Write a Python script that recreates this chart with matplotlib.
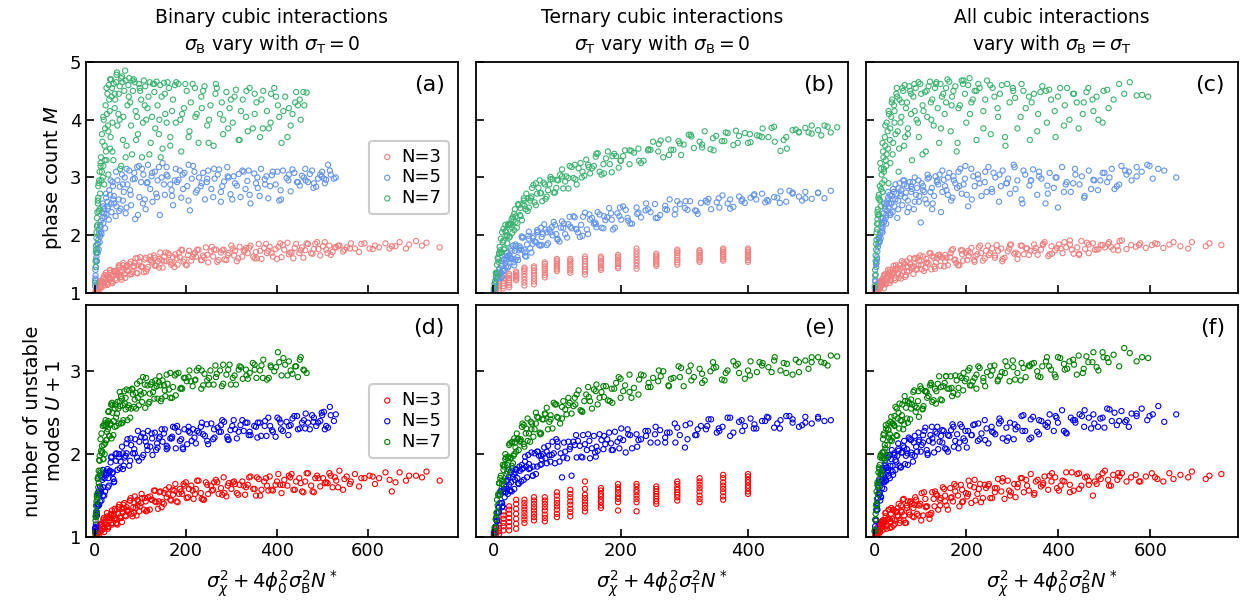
import numpy as np
import matplotlib
matplotlib.use("Agg")
import matplotlib.pyplot as plt

# ---- binary cubic interactions (sigma_T = 0) ----
bin3_x = [2, 3, 5, 6, 8, 10, 12, 14, 16, 18,
          20, 22, 24, 27, 29, 31, 34, 36, 39, 42,
          45, 48, 51, 54, 57, 60, 63, 67, 70, 74,
          77, 81, 85, 88, 92, 96, 100, 104, 108, 112,
          117, 121, 126, 130, 135, 139, 144, 149, 153, 158,
          163, 168, 172, 177, 182, 187, 192, 197, 202, 207,
          212, 217, 222, 228, 233, 238, 244, 249, 255, 260,
          266, 272, 277, 283, 289, 294, 300, 306, 312, 318,
          324, 330, 336, 342, 348, 354, 360, 366, 372, 378,
          384, 391, 397, 403, 410, 416, 423, 429, 436, 442,
          449, 455, 462, 468, 475, 481, 488, 495, 501, 508,
          515, 522, 530, 537, 545, 553, 562, 571, 580, 592,
          603, 615, 624, 638, 647, 652, 669, 683, 690, 718, 728, 757,
          3, 4, 7, 9, 11, 13, 15, 17, 19, 21,
          23, 25, 28, 30, 33, 35, 38, 41, 44, 47,
          50, 53, 56, 59, 62, 65, 69, 72, 79, 83,
          87, 90, 94, 98, 102, 110, 115, 124, 133, 141,
          147, 156, 166, 175, 185, 195, 205, 215, 225, 235,
          247, 257, 269, 280, 292, 303, 315, 327, 339, 351,
          363, 376, 388, 400, 413, 426, 439, 452, 465, 478,
          491, 505, 518, 534, 548,
          4, 6, 9, 12, 15, 18, 22, 26, 30, 34,
          38, 43, 47, 52, 58, 64, 71, 78, 86, 94,
          103, 113, 122, 132, 142, 152, 161, 171, 180, 190,
          200, 220, 240, 262, 285, 308, 332, 356, 381, 407,
          432, 458, 484, 511, 527, 560, 585, 610, 660, 705]
bin3_M = [1.02, 1.05, 1.06, 1.14, 1.06, 1.12, 1.21, 1.09, 1.20, 1.17,
          1.27, 1.13, 1.24, 1.30, 1.15, 1.27, 1.39, 1.24, 1.17, 1.38,
          1.25, 1.37, 1.33, 1.46, 1.28, 1.37, 1.52, 1.26, 1.46, 1.38,
          1.50, 1.33, 1.47, 1.52, 1.35, 1.48, 1.62, 1.46, 1.36, 1.61,
          1.45, 1.57, 1.53, 1.65, 1.47, 1.55, 1.70, 1.44, 1.63, 1.55,
          1.66, 1.49, 1.62, 1.67, 1.49, 1.62, 1.74, 1.58, 1.48, 1.73,
          1.56, 1.67, 1.63, 1.75, 1.57, 1.65, 1.79, 1.53, 1.72, 1.63,
          1.75, 1.57, 1.70, 1.75, 1.57, 1.69, 1.82, 1.65, 1.55, 1.80,
          1.63, 1.74, 1.69, 1.82, 1.63, 1.71, 1.85, 1.59, 1.78, 1.69,
          1.80, 1.63, 1.76, 1.80, 1.62, 1.75, 1.87, 1.70, 1.60, 1.85,
          1.69, 1.79, 1.74, 1.85, 1.69, 1.76, 1.88, 1.65, 1.81, 1.75,
          1.82, 1.71, 1.79, 1.82, 1.72, 1.79, 1.86, 1.77, 1.71, 1.86,
          1.77, 1.82, 1.79, 1.86, 1.77, 1.81, 1.88, 1.77, 1.84, 1.82, 1.87, 1.79,
          1.04, 1.09, 1.07, 1.04, 1.18, 1.10, 1.18, 1.16, 1.25, 1.14,
          1.22, 1.35, 1.14, 1.31, 1.25, 1.35, 1.21, 1.32, 1.37, 1.22,
          1.35, 1.48, 1.32, 1.23, 1.48, 1.32, 1.44, 1.40, 1.54, 1.36,
          1.46, 1.60, 1.34, 1.54, 1.46, 1.58, 1.41, 1.56, 1.61, 1.44,
          1.57, 1.70, 1.54, 1.45, 1.70, 1.54, 1.66, 1.62, 1.75, 1.57,
          1.66, 1.80, 1.54, 1.74, 1.66, 1.77, 1.60, 1.73, 1.78, 1.60,
          1.73, 1.85, 1.69, 1.59, 1.83, 1.67, 1.78, 1.74, 1.86, 1.68,
          1.76, 1.88, 1.66, 1.82, 1.75,
          1.05, 1.03, 1.16, 1.11, 1.18, 1.17, 1.31, 1.17, 1.26, 1.40,
          1.18, 1.36, 1.31, 1.43, 1.27, 1.42, 1.48, 1.32, 1.46, 1.60,
          1.45, 1.37, 1.63, 1.47, 1.59, 1.55, 1.69, 1.51, 1.60, 1.75,
          1.49, 1.70, 1.62, 1.75, 1.58, 1.73, 1.78, 1.60, 1.73, 1.86,
          1.70, 1.61, 1.85, 1.69, 1.79, 1.77, 1.85, 1.76, 1.81, 1.90]
bin3_U = [1.03, 1.01, 1.05, 1.10, 1.06, 1.01, 1.15, 1.07, 1.15, 1.13,
          1.23, 1.10, 1.17, 1.29, 1.10, 1.24, 1.20, 1.28, 1.17, 1.27,
          1.32, 1.17, 1.28, 1.39, 1.25, 1.18, 1.39, 1.26, 1.36, 1.32,
          1.44, 1.28, 1.36, 1.49, 1.26, 1.43, 1.37, 1.47, 1.33, 1.43,
          1.48, 1.33, 1.45, 1.56, 1.42, 1.34, 1.55, 1.42, 1.53, 1.48,
          1.60, 1.44, 1.51, 1.64, 1.42, 1.58, 1.52, 1.62, 1.47, 1.58,
          1.62, 1.46, 1.58, 1.68, 1.53, 1.45, 1.66, 1.52, 1.62, 1.57,
          1.69, 1.52, 1.59, 1.72, 1.49, 1.65, 1.58, 1.67, 1.53, 1.63,
          1.67, 1.51, 1.63, 1.73, 1.58, 1.50, 1.70, 1.57, 1.67, 1.62,
          1.73, 1.56, 1.63, 1.76, 1.53, 1.69, 1.62, 1.72, 1.57, 1.67,
          1.71, 1.55, 1.67, 1.77, 1.62, 1.54, 1.74, 1.61, 1.71, 1.66,
          1.77, 1.60, 1.68, 1.80, 1.57, 1.73, 1.67, 1.76, 1.61, 1.71,
          1.74, 1.64, 1.71, 1.78, 1.69, 1.55, 1.78, 1.68, 1.74, 1.72, 1.79, 1.68,
          1.01, 1.05, 1.04, 1.09, 1.08, 1.16, 1.08, 1.13, 1.21, 1.06,
          1.20, 1.15, 1.25, 1.13, 1.23, 1.27, 1.15, 1.25, 1.34, 1.23,
          1.15, 1.36, 1.23, 1.34, 1.30, 1.41, 1.25, 1.33, 1.47, 1.25,
          1.41, 1.35, 1.45, 1.31, 1.41, 1.47, 1.32, 1.45, 1.56, 1.43,
          1.36, 1.57, 1.45, 1.56, 1.52, 1.64, 1.48, 1.56, 1.68, 1.46,
          1.63, 1.56, 1.66, 1.51, 1.62, 1.66, 1.51, 1.62, 1.72, 1.58,
          1.50, 1.71, 1.57, 1.67, 1.63, 1.74, 1.57, 1.65, 1.77, 1.55,
          1.71, 1.65, 1.74, 1.60, 1.70,
          1.07, 1.01, 1.10, 1.09, 1.16, 1.10, 1.18, 1.23, 1.12, 1.23,
          1.32, 1.22, 1.16, 1.36, 1.23, 1.35, 1.31, 1.44, 1.29, 1.38,
          1.52, 1.31, 1.49, 1.43, 1.54, 1.40, 1.52, 1.57, 1.43, 1.55,
          1.66, 1.52, 1.45, 1.66, 1.53, 1.64, 1.60, 1.72, 1.56, 1.63,
          1.76, 1.54, 1.71, 1.65, 1.72, 1.64, 1.71, 1.73, 1.66, 1.74]

bin5_x = [1, 2, 3, 4, 5, 6, 7, 8, 10, 11,
          13, 15, 17, 19, 21, 23, 26, 28, 31, 34,
          37, 40, 43, 46, 50, 53, 57, 60, 64, 68,
          72, 76, 80, 84, 89, 93, 98, 102, 107, 112,
          117, 122, 127, 132, 138, 143, 149, 154, 160, 166,
          172, 178, 184, 190, 197, 203, 209, 216, 222, 229,
          235, 242, 249, 256, 263, 270, 277, 284, 291, 298,
          305, 312, 320, 327, 335, 342, 350, 358, 365, 373,
          381, 389, 397, 405, 413, 421, 430, 438, 446, 455,
          463, 472, 481, 490, 499, 508, 516, 529,
          1, 2, 3, 5, 6, 8, 9, 12, 14, 16,
          18, 22, 25, 29, 32, 36, 39, 42, 48, 55,
          62, 66, 70, 78, 87, 95, 104, 110, 115, 125,
          135, 141, 152, 158, 170, 176, 187, 194, 206, 213,
          225, 238, 246, 260, 273, 280, 294, 302, 316, 331,
          338, 354, 362, 377, 385, 401, 409, 425, 434, 450,
          459, 468, 477, 486, 495, 503, 512,
          2, 4, 7, 9, 12, 14, 18, 21, 25, 30,
          35, 41, 47, 54, 62, 70, 79, 88, 97, 106,
          116, 126, 137, 147, 158, 169, 181, 193, 206, 219,
          233, 247, 262, 277, 292, 308, 324, 340, 357, 374,
          391, 408, 426, 444, 462, 480, 498, 505, 518, 525]
bin5_M = [1.12, 1.30, 1.45, 1.62, 1.55, 1.78, 1.70, 1.92, 2.03, 1.88,
          2.15, 2.02, 2.30, 2.21, 2.45, 2.12, 2.36, 2.58, 2.27, 2.70,
          2.40, 2.85, 2.55, 2.33, 2.95, 2.62, 2.46, 3.05, 2.75, 2.38,
          2.88, 3.12, 2.52, 2.97, 2.28, 3.18, 2.66, 2.92, 3.05, 2.45,
          3.22, 2.80, 2.58, 3.10, 2.95, 2.35, 3.25, 2.70, 3.02, 2.88,
          2.52, 3.15, 2.96, 2.65, 3.08, 2.85, 2.43, 3.20, 2.74, 3.00,
          2.90, 2.62, 3.12, 2.80, 2.98, 3.05, 2.58, 2.93, 3.18, 2.71,
          3.02, 2.86, 2.66, 3.10, 2.94, 2.55, 3.07, 2.82, 3.15, 2.97,
          2.64, 3.04, 2.88, 2.60, 3.12, 2.99, 2.76, 3.08, 2.92, 3.03,
          2.95, 3.06, 2.90, 2.98, 3.10, 2.96, 3.12, 3.00,
          1.22, 1.40, 1.58, 1.70, 1.85, 2.00, 2.10, 1.98, 2.25, 2.40,
          2.50, 2.32, 2.65, 2.46, 2.78, 2.55, 2.92, 2.68, 2.50, 2.84,
          2.60, 3.00, 2.48, 2.78, 3.08, 2.35, 3.15, 2.62, 2.90, 3.02,
          2.72, 3.18, 2.88, 3.05, 2.68, 2.95, 3.12, 2.80, 3.22, 2.98,
          2.78, 3.08, 2.92, 2.66, 3.14, 2.85, 3.00, 2.62, 3.06, 2.80,
          3.12, 2.90, 2.68, 3.02, 2.85, 3.10, 2.62, 2.95, 3.14, 2.86,
          3.00, 2.92, 3.12, 2.84, 3.05, 2.98, 3.22,
          1.25, 1.55, 1.85, 1.75, 2.18, 2.05, 2.55, 2.38, 2.72, 2.50,
          2.95, 2.62, 3.10, 2.42, 2.88, 3.15, 2.70, 2.98, 3.20, 2.55,
          2.92, 3.08, 2.66, 3.00, 3.18, 2.78, 2.92, 3.05, 2.60, 3.10,
          2.85, 2.98, 3.15, 2.75, 3.02, 2.90, 3.12, 2.70, 3.00, 2.88,
          3.10, 2.78, 3.05, 2.92, 3.15, 2.82, 3.02, 2.90, 3.05, 2.98]
bin5_U = [1.10, 1.11, 1.15, 1.31, 1.27, 1.40, 1.40, 1.52, 1.39, 1.52,
          1.74, 1.44, 1.69, 1.60, 1.77, 1.55, 1.75, 1.82, 1.62, 1.80,
          1.97, 1.78, 1.67, 2.00, 1.81, 1.96, 1.91, 2.09, 1.86, 1.98,
          2.18, 1.86, 2.11, 2.01, 2.18, 1.96, 2.15, 2.21, 1.99, 2.15,
          2.28, 2.09, 1.99, 2.26, 2.08, 2.21, 2.15, 2.30, 2.08, 2.19,
          2.33, 2.07, 2.27, 2.18, 2.30, 2.12, 2.26, 2.30, 2.13, 2.26,
          2.38, 2.22, 2.12, 2.37, 2.20, 2.32, 2.27, 2.39, 2.21, 2.29,
          2.41, 2.19, 2.35, 2.28, 2.38, 2.23, 2.34, 2.38, 2.22, 2.34,
          2.44, 2.29, 2.21, 2.42, 2.28, 2.39, 2.35, 2.46, 2.30, 2.38,
          2.49, 2.30, 2.44, 2.38, 2.47, 2.34, 2.57, 2.48,
          1.07, 1.12, 1.24, 1.26, 1.37, 1.54, 1.38, 1.61, 1.54, 1.72,
          1.50, 1.71, 1.79, 1.60, 1.79, 1.96, 1.77, 1.66, 2.01, 1.83,
          2.01, 1.96, 2.13, 1.92, 2.06, 2.28, 1.96, 2.20, 2.10, 2.25,
          2.05, 2.19, 2.25, 2.06, 2.21, 2.32, 2.16, 2.06, 2.33, 2.16,
          2.28, 2.24, 2.36, 2.18, 2.27, 2.41, 2.17, 2.34, 2.27, 2.38,
          2.23, 2.33, 2.38, 2.22, 2.34, 2.44, 2.30, 2.23, 2.43, 2.31,
          2.41, 2.38, 2.47, 2.34, 2.40, 2.51, 2.32,
          1.10, 1.29, 1.40, 1.55, 1.43, 1.58, 1.81, 1.50, 1.77, 1.71,
          1.90, 1.70, 1.92, 2.00, 1.82, 2.01, 2.19, 2.01, 1.92, 2.25,
          2.05, 2.19, 2.13, 2.30, 2.10, 2.19, 2.34, 2.08, 2.28, 2.20,
          2.33, 2.16, 2.30, 2.35, 2.18, 2.30, 2.41, 2.27, 2.20, 2.40,
          2.27, 2.38, 2.34, 2.46, 2.31, 2.39, 2.50, 2.30, 2.47, 2.40]

bin7_x = [1, 2, 3, 4, 5, 6, 7, 8, 9, 11,
          12, 14, 15, 17, 19, 21, 23, 25, 27, 30,
          32, 35, 38, 41, 44, 47, 50, 53, 56, 60,
          63, 67, 70, 74, 78, 82, 86, 90, 95, 99,
          104, 108, 113, 118, 123, 128, 133, 138, 144, 149,
          155, 160, 166, 172, 178, 184, 190, 196, 202, 208,
          215, 221, 228, 234, 241, 247, 254, 261, 268, 275,
          282, 289, 296, 303, 310, 318, 325, 332, 340, 347,
          355, 363, 370, 378, 386, 394, 402, 410, 418, 426,
          434, 442, 450, 458, 465,
          3, 4, 6, 8, 10, 13, 16, 18, 20, 22,
          24, 26, 28, 29, 31, 33, 34, 36, 37, 39,
          42, 45, 48, 52, 55, 58, 62, 65, 68, 72,
          76, 80, 84, 88, 93, 97, 102, 106, 111, 116,
          121, 126, 131, 136, 141, 147, 152, 158, 163, 170,
          176, 188, 199, 211, 224, 238, 251, 265, 279, 293,
          307, 321, 336, 351, 366, 382, 398, 414, 430, 446,
          2, 3, 5, 7, 9, 11, 13, 16, 19, 22,
          26, 30, 34, 39, 44, 49, 55, 61, 68, 75,
          83, 91, 100, 110, 120, 131, 142, 154, 166, 179,
          192, 206, 220, 235, 250, 266, 282, 299, 316, 333,
          351, 369, 387, 405, 423, 440, 452, 460, 145, 58]
bin7_M = [1.18, 1.55, 1.82, 2.05, 2.30, 2.18, 2.55, 2.85, 2.42, 3.10,
          2.72, 3.35, 2.95, 3.62, 3.20, 2.88, 3.85, 3.45, 4.10, 3.05,
          4.35, 3.70, 4.55, 3.30, 4.20, 4.65, 3.90, 4.45, 3.15, 4.75,
          4.05, 4.85, 3.55, 4.60, 4.30, 3.40, 4.70, 4.15, 3.75, 4.55,
          3.35, 4.68, 4.00, 4.40, 3.60, 4.62, 3.85, 4.25, 4.60, 3.50,
          4.10, 4.65, 3.70, 4.35, 3.95, 4.62, 3.45, 4.20, 4.50, 3.80,
          4.62, 4.05, 3.60, 4.40, 4.58, 3.90, 4.25, 3.55, 4.55, 4.10,
          3.75, 4.48, 4.20, 3.95, 4.52, 3.65, 4.35, 4.05, 4.55, 3.85,
          4.30, 3.70, 4.50, 4.15, 3.95, 4.55, 4.25, 3.60, 4.40, 4.20,
          4.10, 4.48, 4.35, 4.48, 4.47,
          1.70, 1.95, 2.40, 2.65, 2.95, 3.20, 3.75, 3.00, 4.00, 3.55,
          4.25, 3.30, 4.45, 3.90, 4.60, 4.15, 3.50, 4.70, 4.40, 3.95,
          4.62, 4.35, 4.78, 4.10, 4.58, 4.72, 3.65, 4.50, 4.68, 4.25,
          4.72, 3.90, 4.50, 4.65, 4.05, 4.62, 4.35, 3.95, 4.58, 4.20,
          4.65, 4.05, 4.48, 4.66, 3.75, 4.40, 4.64, 3.95, 4.55, 4.15,
          4.60, 4.00, 4.62, 4.30, 4.10, 4.50, 4.00, 4.45, 4.30, 3.85,
          4.40, 4.15, 3.80, 4.45, 4.35, 3.85, 4.40, 4.15, 3.90, 4.25,
          1.45, 1.75, 2.15, 2.60, 2.90, 2.45, 3.25, 3.10, 4.05, 3.30,
          4.55, 3.80, 4.70, 3.45, 4.45, 4.82, 4.00, 4.65, 3.35, 4.40,
          4.68, 3.65, 4.50, 4.25, 3.40, 4.62, 4.00, 4.45, 3.55, 4.65,
          4.10, 3.70, 4.55, 4.20, 3.60, 4.62, 4.00, 4.35, 3.65, 4.50,
          4.10, 3.85, 4.45, 4.05, 3.70, 4.30, 4.00, 4.25, 3.35, 3.20]
bin7_U = [1.05, 1.20, 1.38, 1.31, 1.51, 1.52, 1.71, 1.60, 1.80, 1.98,
          1.77, 2.04, 2.25, 2.03, 1.94, 2.35, 2.13, 2.34, 2.27, 2.51,
          2.22, 2.37, 2.62, 2.23, 2.55, 2.44, 2.63, 2.37, 2.58, 2.67,
          2.41, 2.61, 2.78, 2.56, 2.44, 2.79, 2.57, 2.74, 2.68, 2.88,
          2.63, 2.74, 2.92, 2.61, 2.84, 2.75, 2.89, 2.67, 2.83, 2.89,
          2.70, 2.85, 2.98, 2.81, 2.71, 2.98, 2.80, 2.92, 2.88, 3.01,
          2.82, 2.90, 3.04, 2.79, 2.97, 2.89, 3.01, 2.84, 2.97, 3.01,
          2.85, 2.96, 3.08, 2.92, 2.84, 3.06, 2.91, 3.02, 2.98, 3.10,
          2.92, 3.01, 3.14, 2.90, 3.07, 3.00, 3.23, 2.95, 3.08, 3.12,
          2.97, 3.06, 3.14, 3.02, 2.98,
          1.28, 1.43, 1.45, 1.73, 1.93, 1.80, 2.10, 2.34, 2.11, 2.00,
          2.41, 2.17, 2.38, 2.30, 2.52, 2.22, 2.36, 2.60, 2.19, 2.50,
          2.40, 2.60, 2.34, 2.55, 2.64, 2.37, 2.59, 2.76, 2.54, 2.41,
          2.77, 2.55, 2.72, 2.66, 2.85, 2.59, 2.72, 2.93, 2.56, 2.83,
          2.73, 2.87, 2.67, 2.82, 2.87, 2.67, 2.83, 2.96, 2.78, 2.68,
          2.95, 2.79, 2.92, 2.88, 3.01, 2.83, 2.92, 3.07, 2.82, 3.02,
          2.95, 3.05, 2.91, 3.02, 3.07, 2.92, 3.05, 3.16, 3.01, 2.93,
          1.25, 1.24, 1.48, 1.70, 1.65, 1.92, 2.18, 2.01, 1.94, 2.37,
          2.17, 2.40, 2.35, 2.59, 2.33, 2.49, 2.75, 2.38, 2.68, 2.59,
          2.78, 2.55, 2.76, 2.84, 2.63, 2.80, 2.94, 2.77, 2.68, 2.97,
          2.79, 2.93, 2.89, 3.01, 2.84, 2.93, 3.08, 2.84, 3.02, 2.95,
          3.08, 2.92, 3.05, 3.11, 2.95, 3.06, 3.17, 3.01, 2.64, 2.70]

# ---- ternary cubic interactions (sigma_B = 0) ----
# N=3 runs sit on a grid of x values, several runs per grid value
tern3_cols = [1, 4, 9, 16, 25, 36, 49, 64, 81, 100,
              121, 144, 169, 196, 225, 256, 289, 324, 361, 400]
tern3_M = [[1.00, 1.02, 1.04],
           [1.03, 1.06, 1.09, 1.12],
           [1.05, 1.09, 1.13, 1.17, 1.20],
           [1.08, 1.12, 1.17, 1.21, 1.25, 1.30],
           [1.10, 1.14, 1.18, 1.22, 1.26, 1.30, 1.33],
           [1.22, 1.25, 1.28, 1.31, 1.34, 1.37, 1.29],
           [1.13, 1.18, 1.23, 1.28, 1.33, 1.38, 1.41, 1.44],
           [1.15, 1.20, 1.25, 1.30, 1.35, 1.39, 1.43, 1.46],
           [1.27, 1.31, 1.35, 1.39, 1.42, 1.46, 1.50, 1.53],
           [1.38, 1.41, 1.44, 1.47, 1.50, 1.53, 1.56, 1.59],
           [1.35, 1.39, 1.42, 1.46, 1.49, 1.53, 1.56, 1.59],
           [1.32, 1.37, 1.41, 1.46, 1.50, 1.55, 1.59, 1.63],
           [1.40, 1.43, 1.46, 1.50, 1.53, 1.56, 1.60, 1.63],
           [1.43, 1.46, 1.50, 1.53, 1.56, 1.60, 1.63, 1.66],
           [1.42, 1.47, 1.52, 1.57, 1.62, 1.67, 1.72, 1.77],
           [1.47, 1.50, 1.53, 1.56, 1.59, 1.62, 1.65, 1.68],
           [1.49, 1.53, 1.57, 1.61, 1.65, 1.69, 1.72, 1.75],
           [1.54, 1.57, 1.60, 1.63, 1.66, 1.69, 1.72, 1.74],
           [1.56, 1.59, 1.62, 1.65, 1.68, 1.71, 1.74, 1.77],
           [1.54, 1.57, 1.61, 1.64, 1.67, 1.71, 1.74, 1.77]]
tern3_U = [[1.00, 1.01, 1.03],
           [1.02, 1.05, 1.08, 1.10],
           [1.03, 1.07, 1.11, 1.15, 1.20],
           [1.08, 1.13, 1.17, 1.22, 1.26, 1.31],
           [1.08, 1.13, 1.18, 1.23, 1.28, 1.33, 1.37],
           [1.10, 1.16, 1.22, 1.28, 1.34, 1.40, 1.45],
           [1.17, 1.21, 1.25, 1.29, 1.33, 1.37, 1.41, 1.45],
           [1.20, 1.24, 1.28, 1.32, 1.36, 1.40, 1.44, 1.48],
           [1.19, 1.23, 1.27, 1.32, 1.36, 1.40, 1.44, 1.48],
           [1.24, 1.28, 1.33, 1.37, 1.41, 1.45, 1.50, 1.54],
           [1.25, 1.30, 1.34, 1.39, 1.43, 1.48, 1.52, 1.57],
           [1.31, 1.35, 1.39, 1.43, 1.47, 1.51, 1.58, 1.67],
           [1.35, 1.38, 1.42, 1.45, 1.49, 1.52, 1.56, 1.59],
           [1.32, 1.42, 1.46, 1.49, 1.53, 1.57, 1.60, 1.64],
           [1.31, 1.42, 1.46, 1.50, 1.54, 1.57, 1.61, 1.64],
           [1.40, 1.43, 1.46, 1.49, 1.52, 1.55, 1.58, 1.61],
           [1.44, 1.48, 1.51, 1.54, 1.57, 1.60, 1.64, 1.67],
           [1.42, 1.46, 1.50, 1.55, 1.59, 1.63, 1.67, 1.71],
           [1.45, 1.49, 1.54, 1.58, 1.62, 1.66, 1.71, 1.75],
           [1.52, 1.55, 1.59, 1.62, 1.66, 1.69, 1.73, 1.76]]

tern5_x = [1, 2, 3, 4, 5, 6, 7, 8, 9, 10,
           12, 13, 15, 17, 18, 20, 22, 24, 26, 28,
           30, 33, 35, 38, 41, 44, 47, 50, 53, 56,
           60, 63, 67, 70, 74, 78, 82, 86, 90, 95,
           99, 104, 108, 113, 118, 123, 128, 133, 138, 144,
           149, 155, 161, 167, 173, 179, 185, 191, 198, 204,
           211, 218, 225, 232, 239, 247, 254, 262, 270, 277,
           285, 293, 301, 309, 317, 326, 334, 342, 351, 360,
           368, 377, 386, 395, 404, 413, 422, 432, 441, 451,
           460, 470, 480, 490, 500, 510, 520, 530,
           11, 14, 16, 19, 21, 23, 25, 27, 29, 32,
           34, 36, 39, 42, 45, 48, 52, 55, 58, 62,
           65, 69, 72, 76, 80, 84, 88, 93, 97, 101,
           106, 111, 116, 121, 126, 131, 136, 141, 147, 152,
           158, 164, 170, 176, 182, 188, 195, 201, 208, 215,
           228, 243, 258, 273, 289, 305, 321, 338, 355, 372,
           390, 409, 427, 446, 465, 485,
           3, 6, 9, 11, 14, 17, 20, 23, 27, 31,
           35, 40, 45, 50, 56, 62, 69, 76, 84, 92,
           101, 110, 120, 130, 140, 151, 162, 174, 186, 199,
           212, 226, 240, 255, 270, 286, 302, 319, 336, 354,
           372, 391, 410, 430, 450, 470, 490, 510, 160, 75]
tern5_M = [1.04, 1.06, 1.17, 1.16, 1.24, 1.24, 1.34, 1.25, 1.33, 1.43,
           1.26, 1.47, 1.42, 1.57, 1.40, 1.56, 1.64, 1.46, 1.63, 1.77,
           1.59, 1.48, 1.84, 1.62, 1.81, 1.75, 1.96, 1.70, 1.84, 2.06,
           1.70, 1.98, 1.88, 2.06, 1.82, 2.02, 2.10, 1.86, 2.05, 2.23,
           2.02, 1.89, 2.24, 2.02, 2.19, 2.12, 2.31, 2.05, 2.18, 2.39,
           2.02, 2.30, 2.19, 2.36, 2.12, 2.31, 2.38, 2.13, 2.33, 2.50,
           2.30, 2.20, 2.48, 2.31, 2.43, 2.40, 2.54, 2.35, 2.45, 2.62,
           2.36, 2.54, 2.47, 2.59, 2.43, 2.56, 2.60, 2.45, 2.57, 2.69,
           2.55, 2.49, 2.67, 2.56, 2.65, 2.62, 2.72, 2.59, 2.66, 2.76,
           2.58, 2.72, 2.67, 2.75, 2.63, 2.73, 2.64, 2.77,
           1.36, 1.55, 1.38, 1.52, 1.70, 1.44, 1.66, 1.59, 1.73, 1.53,
           1.73, 1.81, 1.57, 1.78, 1.96, 1.75, 1.63, 1.99, 1.77, 1.95,
           1.89, 2.09, 1.83, 1.97, 2.19, 1.83, 2.10, 2.00, 2.18, 1.94,
           2.13, 2.20, 1.96, 2.15, 2.33, 2.10, 1.97, 2.32, 2.10, 2.27,
           2.20, 2.40, 2.13, 2.26, 2.47, 2.10, 2.38, 2.27, 2.44, 2.20,
           2.39, 2.45, 2.30, 2.44, 2.59, 2.44, 2.37, 2.63, 2.48, 2.62,
           2.59, 2.69, 2.57, 2.65, 2.77, 2.60,
           1.11, 1.26, 1.40, 1.33, 1.28, 1.59, 1.46, 1.62, 1.61, 1.82,
           1.58, 1.74, 1.98, 1.64, 1.94, 1.85, 2.05, 1.83, 2.05, 2.14,
           1.92, 2.13, 2.32, 2.11, 1.99, 2.36, 2.14, 2.33, 2.27, 2.48,
           2.25, 2.37, 2.55, 2.30, 2.51, 2.45, 2.59, 2.42, 2.57, 2.64,
           2.46, 2.62, 2.71, 2.61, 2.56, 2.74, 2.64, 2.74, 2.22, 2.13]
tern5_U = [1.06, 1.04, 1.11, 1.13, 1.24, 1.19, 1.29, 1.36, 1.30, 1.41,
           1.55, 1.41, 1.37, 1.62, 1.48, 1.61, 1.58, 1.72, 1.56, 1.66,
           1.83, 1.58, 1.78, 1.71, 1.85, 1.67, 1.83, 1.91, 1.72, 1.88,
           2.02, 1.85, 1.76, 2.03, 1.87, 2.00, 1.95, 2.10, 1.91, 2.01,
           2.18, 1.91, 1.72, 2.03, 2.15, 1.74, 2.11, 2.16, 1.97, 2.12,
           2.24, 2.07, 1.97, 2.24, 2.06, 2.18, 2.13, 2.27, 2.07, 2.17,
           2.30, 2.07, 2.24, 2.18, 2.28, 2.14, 2.24, 2.29, 2.14, 2.26,
           2.37, 2.23, 2.08, 2.37, 2.23, 2.34, 2.30, 2.42, 2.26, 2.33,
           2.44, 2.26, 2.39, 2.34, 2.43, 2.31, 2.40, 2.44, 2.32, 2.41,
           2.46, 2.38, 2.33, 2.45, 2.37, 2.43, 2.40, 2.41,
           1.51, 1.41, 1.55, 1.55, 1.68, 1.52, 1.63, 1.78, 1.55, 1.76,
           1.69, 1.82, 1.65, 1.80, 1.87, 1.69, 1.85, 1.99, 1.83, 1.74,
           2.01, 1.85, 1.98, 1.94, 2.08, 1.89, 1.99, 2.15, 1.89, 2.09,
           2.01, 2.14, 1.95, 2.09, 2.15, 1.96, 2.10, 2.23, 2.05, 1.95,
           2.22, 2.04, 2.17, 2.12, 2.26, 2.05, 2.15, 2.31, 2.02, 2.23,
           2.17, 2.28, 2.14, 2.26, 2.32, 2.18, 2.30, 2.42, 2.28, 2.22,
           2.41, 2.31, 2.40, 2.37, 2.46, 2.35,
           1.12, 1.20, 1.36, 1.55, 1.36, 1.58, 1.54, 1.69, 1.56, 1.72,
           1.81, 1.64, 1.82, 1.97, 1.82, 1.74, 2.03, 1.88, 2.03, 1.99,
           2.15, 1.96, 2.06, 2.23, 1.96, 2.16, 2.09, 2.22, 2.05, 2.19,
           2.24, 2.09, 2.22, 2.33, 2.20, 2.14, 2.35, 2.23, 2.34, 2.31,
           2.44, 2.28, 2.36, 2.45, 2.31, 2.42, 2.38, 2.45, 2.02, 1.98]

tern7_x = [1, 2, 3, 4, 5, 6, 7, 8, 9, 10,
           12, 13, 15, 16, 18, 20, 22, 24, 26, 28,
           31, 33, 36, 39, 42, 45, 48, 51, 54, 58,
           61, 65, 69, 73, 77, 81, 86, 90, 95, 100,
           105, 110, 115, 120, 126, 131, 137, 143, 149, 155,
           161, 167, 173, 180, 186, 193, 200, 207, 214, 221,
           228, 236, 243, 251, 259, 267, 275, 283, 291, 299,
           307, 315, 324, 332, 341, 350, 359, 368, 377, 386,
           395, 404, 414, 423, 432, 442, 451, 461, 470, 480,
           490, 500, 510, 520, 530, 540,
           11, 14, 17, 19, 21, 23, 25, 27, 29, 30,
           32, 34, 35, 37, 40, 43, 46, 49, 52, 56,
           59, 63, 67, 71, 75, 79, 84, 88, 93, 97,
           102, 108, 113, 118, 123, 129, 134, 140, 146, 152,
           158, 164, 170, 177, 183, 190, 197, 204, 217, 232,
           247, 263, 279, 295, 311, 328, 345, 363, 381, 400,
           418, 437, 456, 475, 495,
           2, 4, 6, 8, 10, 13, 16, 19, 22, 25,
           29, 33, 38, 43, 48, 54, 60, 67, 74, 82,
           90, 99, 108, 118, 128, 139, 150, 162, 174, 187,
           200, 214, 229, 244, 260, 276, 293, 310, 328, 346,
           365, 384, 403, 422, 441, 460, 480, 500, 515, 525]
tern7_M = [1.08, 1.08, 1.21, 1.35, 1.34, 1.33, 1.61, 1.54, 1.69, 1.69,
           1.94, 1.70, 1.88, 2.11, 1.77, 2.08, 2.00, 2.20, 1.98, 2.20,
           2.32, 2.09, 2.33, 2.54, 2.35, 2.26, 2.64, 2.45, 2.64, 2.60,
           2.82, 2.57, 2.72, 2.95, 2.59, 2.88, 2.78, 2.97, 2.74, 2.96,
           3.05, 2.81, 3.02, 3.20, 2.99, 2.88, 3.25, 3.03, 3.22, 3.16,
           3.36, 3.10, 3.23, 3.45, 3.09, 3.37, 3.29, 3.47, 3.23, 3.43,
           3.50, 3.29, 3.47, 3.62, 3.45, 3.35, 3.66, 3.48, 3.63, 3.57,
           3.74, 3.51, 3.62, 3.80, 3.49, 3.72, 3.63, 3.77, 3.56, 3.72,
           3.77, 3.61, 3.73, 3.85, 3.70, 3.62, 3.46, 3.50, 3.82, 3.78,
           3.86, 3.76, 3.82, 3.90, 3.78, 3.87,
           1.74, 2.05, 1.75, 2.06, 1.98, 2.18, 1.96, 2.18, 2.28, 2.04,
           2.26, 2.45, 2.23, 2.13, 2.52, 2.33, 2.54, 2.51, 2.72, 2.48,
           2.64, 2.87, 2.52, 2.82, 2.73, 2.91, 2.67, 2.88, 2.97, 2.74,
           2.95, 3.14, 2.93, 2.81, 3.18, 2.97, 3.16, 3.10, 3.31, 3.07,
           3.20, 3.42, 3.05, 3.33, 3.23, 3.41, 3.17, 3.37, 3.46, 3.25,
           3.48, 3.64, 3.48, 3.39, 3.71, 3.52, 3.68, 3.63, 3.81, 3.60,
           3.72, 3.86, 3.65, 3.83, 3.78,
           1.16, 1.28, 1.49, 1.59, 1.80, 1.70, 1.91, 2.18, 1.86, 2.18,
           2.14, 2.37, 2.21, 2.47, 2.60, 2.42, 2.67, 2.90, 2.73, 2.63,
           3.01, 2.82, 3.02, 2.99, 3.22, 3.00, 3.18, 3.41, 3.07, 3.37,
           3.29, 3.47, 3.29, 3.49, 3.58, 3.39, 3.59, 3.74, 3.57, 3.47,
           3.78, 3.60, 3.75, 3.70, 3.88, 3.70, 3.79, 3.90, 3.73, 3.88]
tern7_U = [1.00, 1.11, 1.12, 1.21, 1.29, 1.45, 1.38, 1.50, 1.65, 1.51,
           1.74, 1.68, 1.87, 1.68, 1.87, 1.96, 1.79, 1.97, 2.13, 1.96,
           1.89, 2.19, 2.03, 2.19, 2.15, 2.33, 2.12, 2.25, 2.43, 2.15,
           2.37, 2.30, 2.45, 2.26, 2.42, 2.49, 2.30, 2.47, 2.62, 2.45,
           2.37, 2.64, 2.48, 2.62, 2.58, 2.72, 2.53, 2.64, 2.81, 2.55,
           2.76, 2.68, 2.82, 2.65, 2.79, 2.86, 2.68, 2.83, 2.96, 2.80,
           2.72, 2.95, 2.81, 2.92, 2.88, 3.00, 2.83, 2.92, 3.06, 2.82,
           3.00, 2.93, 3.03, 2.89, 3.00, 3.05, 2.90, 3.01, 3.12, 2.98,
           2.91, 3.12, 2.99, 3.10, 3.05, 3.17, 3.01, 3.09, 2.96, 2.99,
           3.13, 3.11, 3.17, 3.10, 3.19, 3.18,
           1.71, 1.64, 1.85, 1.94, 1.76, 1.95, 2.11, 1.95, 1.86, 2.15,
           1.98, 2.14, 2.08, 2.25, 2.05, 2.18, 2.37, 2.09, 2.31, 2.25,
           2.39, 2.21, 2.37, 2.44, 2.25, 2.42, 2.56, 2.39, 2.31, 2.60,
           2.44, 2.57, 2.54, 2.68, 2.49, 2.60, 2.77, 2.51, 2.72, 2.64,
           2.78, 2.60, 2.75, 2.82, 2.64, 2.79, 2.93, 2.76, 2.68, 2.96,
           2.81, 2.94, 2.91, 3.04, 2.89, 2.97, 3.11, 2.89, 3.07, 3.01,
           3.11, 2.99, 3.10, 3.14, 3.03,
           1.07, 1.22, 1.30, 1.52, 1.65, 1.58, 1.81, 2.00, 1.87, 1.81,
           2.14, 2.00, 2.18, 2.16, 2.35, 2.16, 2.30, 2.50, 2.24, 2.48,
           2.42, 2.60, 2.43, 2.59, 2.68, 2.52, 2.69, 2.84, 2.69, 2.62,
           2.91, 2.75, 2.90, 2.86, 3.01, 2.82, 2.93, 3.07, 2.86, 3.04,
           2.98, 3.09, 2.95, 3.07, 3.13, 2.98, 3.11, 3.17, 3.11, 3.07]

# ---- all cubic interactions (sigma_B = sigma_T) ----
all3_x = [2, 3, 4, 6, 7, 9, 11, 13, 15, 17,
          19, 21, 24, 26, 28, 31, 34, 36, 39, 42,
          45, 48, 51, 55, 58, 62, 65, 69, 73, 77,
          81, 85, 89, 93, 98, 102, 106, 111, 115, 120,
          124, 129, 134, 139, 144, 149, 154, 160, 165, 171,
          176, 182, 188, 193, 199, 205, 211, 217, 224, 230,
          236, 243, 249, 256, 262, 269, 276, 283, 290, 297,
          304, 311, 318, 325, 332, 340, 347, 355, 362, 370,
          378, 385, 393, 401, 409, 417, 425, 433, 441, 450,
          458, 466, 475, 483, 492, 501, 510, 519, 528, 538,
          548, 558, 568, 578, 590, 603, 615, 628, 641, 650, 665, 682, 690, 720, 728, 754,
          3, 5, 8, 10, 12, 14, 16, 18, 20, 22,
          25, 27, 30, 33, 35, 38, 41, 44, 47, 50,
          53, 57, 60, 64, 67, 71, 75, 79, 83, 87,
          91, 96, 100, 108, 113, 118, 126, 131, 137, 142,
          152, 157, 168, 174, 185, 191, 202, 208, 220, 227,
          240, 252, 266, 279, 293, 307, 321, 336, 351, 366,
          381, 397, 413, 429, 445, 462, 479, 496, 514, 533,
          4, 6, 9, 12, 15, 18, 21, 25, 29, 33,
          37, 42, 47, 52, 58, 64, 71, 78, 86, 94,
          103, 112, 122, 132, 143, 154, 166, 178, 191, 204,
          218, 232, 247, 262, 278, 295, 312, 330, 348, 367,
          386, 405, 425, 445, 466, 487, 508, 530, 575, 610]
all3_M = [1.00, 1.05, 1.04, 1.12, 1.04, 1.12, 1.16, 1.09, 1.17, 1.24,
          1.15, 1.08, 1.32, 1.18, 1.30, 1.27, 1.40, 1.23, 1.33, 1.47,
          1.22, 1.42, 1.34, 1.48, 1.30, 1.44, 1.50, 1.31, 1.46, 1.60,
          1.43, 1.33, 1.59, 1.42, 1.55, 1.49, 1.63, 1.43, 1.53, 1.69,
          1.41, 1.61, 1.53, 1.66, 1.47, 1.61, 1.66, 1.48, 1.62, 1.76,
          1.58, 1.48, 1.74, 1.56, 1.70, 1.64, 1.78, 1.57, 1.67, 1.82,
          1.56, 1.73, 1.66, 1.77, 1.61, 1.73, 1.77, 1.61, 1.72, 1.84,
          1.68, 1.59, 1.82, 1.67, 1.77, 1.73, 1.84, 1.66, 1.75, 1.88,
          1.64, 1.81, 1.74, 1.84, 1.69, 1.79, 1.84, 1.68, 1.79, 1.90,
          1.76, 1.69, 1.86, 1.75, 1.83, 1.79, 1.88, 1.75, 1.81, 1.91,
          1.76, 1.83, 1.80, 1.86, 1.78, 1.83, 1.85, 1.78, 1.84, 1.88, 1.81, 1.77, 1.88, 1.81, 1.86, 1.83,
          1.02, 1.08, 1.16, 1.10, 1.07, 1.21, 1.13, 1.21, 1.19, 1.32,
          1.16, 1.25, 1.40, 1.17, 1.35, 1.29, 1.41, 1.26, 1.39, 1.44,
          1.26, 1.42, 1.55, 1.38, 1.28, 1.55, 1.38, 1.50, 1.46, 1.60,
          1.40, 1.49, 1.65, 1.38, 1.59, 1.51, 1.64, 1.46, 1.60, 1.66,
          1.46, 1.61, 1.74, 1.57, 1.48, 1.74, 1.57, 1.70, 1.64, 1.79,
          1.60, 1.69, 1.83, 1.59, 1.77, 1.70, 1.82, 1.66, 1.78, 1.83,
          1.67, 1.78, 1.88, 1.75, 1.68, 1.87, 1.75, 1.83, 1.80, 1.90,
          1.03, 1.08, 1.18, 1.08, 1.19, 1.18, 1.29, 1.15, 1.29, 1.36,
          1.21, 1.34, 1.48, 1.34, 1.25, 1.53, 1.37, 1.50, 1.46, 1.61,
          1.41, 1.52, 1.69, 1.42, 1.63, 1.55, 1.69, 1.52, 1.67, 1.73,
          1.54, 1.69, 1.82, 1.65, 1.55, 1.83, 1.67, 1.77, 1.73, 1.85,
          1.68, 1.77, 1.91, 1.66, 1.84, 1.76, 1.85, 1.74, 1.83, 1.86]
all3_U = [1.01, 1.03, 1.05, 1.01, 1.08, 1.13, 1.08, 1.06, 1.18, 1.12,
          1.20, 1.17, 1.29, 1.13, 1.21, 1.33, 1.11, 1.28, 1.22, 1.32,
          1.16, 1.30, 1.35, 1.17, 1.32, 1.45, 1.26, 1.17, 1.43, 1.27,
          1.40, 1.35, 1.48, 1.28, 1.38, 1.20, 1.26, 1.46, 1.37, 1.22,
          1.29, 1.46, 1.52, 1.33, 1.47, 1.60, 1.43, 1.33, 1.59, 1.43,
          1.55, 1.50, 1.63, 1.43, 1.53, 1.68, 1.41, 1.60, 1.52, 1.64,
          1.47, 1.59, 1.64, 1.47, 1.59, 1.70, 1.55, 1.46, 1.68, 1.54,
          1.64, 1.60, 1.71, 1.54, 1.62, 1.76, 1.51, 1.69, 1.61, 1.73,
          1.57, 1.67, 1.72, 1.56, 1.68, 1.78, 1.63, 1.56, 1.76, 1.62,
          1.72, 1.68, 1.50, 1.64, 1.70, 1.80, 1.62, 1.75, 1.69, 1.77,
          1.67, 1.72, 1.75, 1.67, 1.73, 1.77, 1.70, 1.67, 1.77, 1.70, 1.75, 1.72, 1.79, 1.70, 1.74, 1.76,
          1.05, 1.01, 1.07, 1.15, 1.06, 1.15, 1.13, 1.20, 1.09, 1.20,
          1.25, 1.10, 1.22, 1.33, 1.19, 1.12, 1.33, 1.20, 1.30, 1.26,
          1.40, 1.20, 1.30, 1.46, 1.17, 1.38, 1.30, 1.43, 1.25, 1.39,
          1.45, 1.26, 1.40, 1.54, 1.37, 1.27, 1.54, 1.37, 1.50, 1.45,
          1.58, 1.38, 1.48, 1.64, 1.37, 1.57, 1.49, 1.62, 1.44, 1.58,
          1.63, 1.47, 1.59, 1.71, 1.56, 1.48, 1.71, 1.56, 1.67, 1.63,
          1.74, 1.59, 1.67, 1.78, 1.58, 1.73, 1.67, 1.77, 1.62, 1.73,
          1.07, 1.04, 1.02, 1.15, 1.11, 1.18, 1.17, 1.29, 1.14, 1.22,
          1.35, 1.14, 1.31, 1.25, 1.38, 1.20, 1.35, 1.42, 1.24, 1.39,
          1.53, 1.36, 1.27, 1.55, 1.38, 1.50, 1.47, 1.62, 1.42, 1.52,
          1.69, 1.42, 1.62, 1.54, 1.67, 1.50, 1.64, 1.69, 1.53, 1.65,
          1.77, 1.62, 1.54, 1.77, 1.63, 1.73, 1.69, 1.77, 1.67, 1.72]

all5_x = [1, 2, 3, 4, 5, 6, 7, 8, 10, 11,
          13, 15, 17, 19, 21, 24, 26, 29, 31, 34,
          37, 40, 43, 46, 50, 53, 57, 61, 65, 69,
          73, 77, 82, 86, 91, 96, 101, 106, 111, 116,
          122, 127, 133, 139, 145, 151, 157, 163, 170, 176,
          183, 190, 197, 204, 211, 218, 225, 233, 240, 248,
          255, 263, 271, 279, 287, 295, 303, 311, 320, 328,
          337, 345, 354, 363, 372, 381, 390, 399, 408, 418,
          427, 437, 446, 456, 466, 476, 486, 496, 506, 516,
          527, 537, 548, 559, 570, 581, 593, 605, 617, 630, 656,
          9, 12, 14, 16, 18, 20, 22, 23, 25, 27,
          28, 30, 32, 35, 38, 41, 44, 48, 52, 55,
          59, 63, 67, 71, 75, 80, 84, 88, 93, 98,
          103, 109, 114, 119, 125, 130, 136, 142, 148, 154,
          160, 167, 173, 180, 187, 194, 201, 215, 229, 244,
          259, 275, 291, 307, 324, 341, 358, 376, 394, 412,
          432, 451, 471, 491, 511, 532, 553,
          2, 4, 6, 9, 12, 15, 18, 22, 26, 30,
          35, 40, 46, 52, 58, 65, 72, 80, 88, 97,
          106, 116, 126, 137, 148, 160, 172, 185, 198, 212,
          226, 241, 256, 272, 288, 305, 322, 340, 358, 377,
          396, 416, 436, 457, 478, 500, 522, 545, 570, 598]
all5_M = [1.08, 1.20, 1.32, 1.45, 1.52, 1.62, 1.72, 1.80, 1.95, 1.88,
          2.05, 2.15, 2.08, 2.30, 2.22, 2.45, 2.35, 2.60, 2.48, 2.70,
          2.55, 2.40, 2.75, 2.62, 2.30, 2.82, 2.68, 2.52, 2.88, 2.74,
          2.60, 2.92, 2.80, 2.45, 2.70, 2.95, 2.22, 2.85, 2.62, 2.98,
          2.75, 2.55, 3.02, 2.88, 2.40, 2.96, 2.78, 3.08, 2.65, 2.90,
          3.10, 2.72, 2.98, 2.50, 3.15, 2.85, 3.05, 2.68, 2.92, 3.18,
          2.80, 3.00, 2.58, 3.12, 2.90, 2.72, 3.22, 2.95, 2.62, 3.05,
          2.86, 3.14, 2.70, 2.98, 2.55, 3.08, 2.82, 2.48, 3.18, 2.92,
          2.75, 3.05, 2.88, 2.65, 3.12, 2.96, 2.78, 3.08, 2.92, 3.15,
          2.85, 3.20, 3.05, 2.95, 3.18, 3.10, 3.22, 2.98, 3.15, 3.12, 3.00,
          1.85, 2.00, 1.95, 2.20, 2.12, 2.38, 2.25, 2.50, 2.30, 2.55,
          2.42, 2.65, 2.55, 2.38, 2.68, 2.80, 2.50, 2.72, 2.60, 2.90,
          2.78, 2.95, 2.65, 2.85, 2.48, 2.75, 2.92, 2.58, 2.82, 2.68,
          2.90, 2.75, 2.55, 3.00, 2.82, 2.68, 2.92, 3.05, 2.75, 2.85,
          3.00, 2.60, 2.95, 2.82, 3.15, 2.88, 2.70, 3.02, 2.90, 2.75,
          3.08, 2.85, 2.98, 2.80, 3.12, 2.95, 3.02, 2.86, 3.00, 2.75,
          2.90, 3.02, 2.80, 2.95, 3.00, 2.88, 3.10,
          1.22, 1.50, 1.58, 1.95, 1.90, 2.30, 2.05, 2.55, 2.20, 2.75,
          2.35, 2.62, 2.88, 2.45, 2.72, 2.95, 2.40, 2.85, 3.00, 2.58,
          2.78, 3.05, 2.45, 2.95, 3.12, 2.70, 3.02, 2.85, 3.20, 2.62,
          2.98, 3.10, 2.75, 3.05, 2.90, 3.18, 2.55, 2.95, 3.10, 2.72,
          3.00, 2.88, 3.15, 2.68, 2.95, 3.08, 2.80, 3.12, 3.02, 3.20]
all5_U = [1.07, 1.09, 1.20, 1.21, 1.32, 1.41, 1.33, 1.47, 1.68, 1.51,
          1.44, 1.75, 1.59, 1.75, 1.71, 1.89, 1.68, 1.81, 1.99, 1.71,
          1.94, 1.86, 2.01, 1.81, 1.98, 2.04, 1.84, 2.02, 2.16, 1.98,
          1.87, 2.18, 1.99, 2.14, 2.09, 2.26, 2.03, 2.14, 2.32, 1.99,
          2.23, 2.14, 2.27, 2.06, 2.22, 2.28, 2.06, 2.22, 2.36, 2.16,
          2.07, 2.33, 2.16, 2.28, 2.23, 2.36, 2.16, 2.25, 2.41, 2.13,
          2.33, 2.24, 2.37, 2.19, 2.32, 2.38, 2.18, 2.33, 2.46, 2.28,
          2.18, 2.45, 2.27, 2.40, 2.35, 2.48, 2.28, 2.38, 2.53, 2.25,
          2.44, 2.38, 2.48, 2.33, 2.44, 2.48, 2.33, 2.44, 2.55, 2.40,
          2.35, 2.52, 2.41, 2.49, 2.46, 2.55, 2.41, 2.48, 2.58, 2.39, 2.48,
          1.52, 1.66, 1.49, 1.67, 1.83, 1.67, 1.58, 1.86, 1.69, 1.84,
          1.78, 1.96, 1.74, 1.86, 2.05, 1.75, 1.99, 1.91, 2.06, 1.86,
          2.02, 2.10, 1.88, 2.06, 2.20, 2.02, 1.91, 2.22, 2.03, 2.17,
          2.11, 2.28, 2.05, 2.16, 2.33, 2.02, 2.25, 2.15, 2.29, 2.07,
          2.23, 2.29, 2.09, 2.24, 2.36, 2.19, 2.08, 2.35, 2.18, 2.31,
          2.26, 2.40, 2.20, 2.30, 2.47, 2.20, 2.41, 2.33, 2.46, 2.28,
          2.41, 2.46, 2.31, 2.43, 2.54, 2.40, 2.33,
          1.13, 1.20, 1.37, 1.59, 1.53, 1.48, 1.80, 1.66, 1.83, 1.80,
          1.99, 1.79, 1.93, 2.13, 1.84, 2.08, 2.01, 2.17, 1.98, 2.15,
          2.23, 2.01, 2.19, 2.33, 2.14, 2.03, 2.33, 2.14, 2.28, 2.23,
          2.37, 2.17, 2.27, 2.43, 2.16, 2.36, 2.28, 2.42, 2.24, 2.38,
          2.44, 2.26, 2.41, 2.53, 2.37, 2.32, 2.50, 2.39, 2.49, 2.46]

all7_x = [1, 2, 3, 4, 5, 6, 7, 8, 9, 11,
          12, 14, 16, 18, 20, 22, 24, 26, 29, 31,
          34, 37, 40, 43, 46, 50, 53, 57, 61, 65,
          69, 73, 78, 82, 87, 92, 97, 102, 107, 112,
          118, 123, 129, 135, 141, 147, 153, 159, 166, 172,
          179, 186, 193, 200, 207, 214, 222, 229, 237, 245,
          253, 261, 269, 277, 285, 294, 302, 311, 320, 329,
          338, 347, 356, 365, 375, 384, 394, 404, 414, 424,
          434, 444, 455, 465, 476, 487, 498, 509, 520, 532,
          543, 555, 570, 582, 595,
          4, 6, 8, 10, 13, 15, 17, 19, 21, 23,
          25, 27, 30, 32, 35, 38, 41, 44, 48, 51,
          55, 59, 63, 67, 71, 76, 80, 85, 90, 95,
          100, 105, 110, 115, 121, 126, 132, 138, 144, 150,
          156, 163, 169, 176, 183, 190, 197, 204, 211, 218,
          226, 241, 257, 273, 289, 306, 324, 342, 361, 380,
          399, 419, 440, 461, 483, 506,
          2, 3, 5, 7, 9, 11, 13, 15, 18, 21,
          24, 27, 31, 35, 39, 44, 49, 54, 60, 66,
          73, 80, 88, 96, 105, 114, 124, 134, 145, 156,
          168, 181, 194, 208, 222, 237, 252, 268, 284, 301,
          318, 336, 354, 373, 392, 412, 432, 453, 474, 496]
all7_M = [1.12, 1.30, 1.55, 1.75, 1.92, 2.10, 2.28, 2.45, 2.20, 2.62,
          2.85, 2.50, 3.05, 2.75, 3.35, 2.95, 3.55, 3.20, 3.80, 2.90,
          3.65, 4.05, 3.40, 4.25, 3.75, 4.40, 3.10, 3.95, 4.55, 3.55,
          4.20, 3.85, 4.50, 3.30, 4.62, 4.00, 3.70, 4.45, 4.15, 3.45,
          4.58, 4.30, 3.90, 4.65, 3.60, 4.40, 4.10, 4.70, 3.80, 4.50,
          3.45, 4.25, 4.62, 3.95, 4.72, 4.35, 3.65, 4.55, 4.15, 4.68,
          3.75, 4.40, 4.05, 4.60, 3.55, 4.30, 4.50, 3.85, 4.62, 4.20,
          3.65, 4.45, 4.10, 4.58, 3.95, 4.35, 3.70, 4.55, 4.25, 4.00,
          4.45, 3.85, 4.30, 4.55, 4.15, 4.00, 4.50, 4.20, 4.35, 4.62,
          4.45, 4.65, 4.42, 4.43, 4.40,
          1.85, 2.20, 2.35, 2.70, 2.60, 3.15, 2.90, 3.45, 3.10, 3.70,
          3.30, 3.95, 3.50, 4.10, 3.85, 4.30, 3.60, 4.15, 4.45, 3.80,
          4.35, 4.05, 4.50, 3.70, 4.30, 4.58, 4.10, 4.40, 4.55, 3.95,
          4.62, 4.25, 4.48, 4.05, 4.66, 4.35, 4.55, 4.20, 4.62, 4.45,
          4.30, 4.66, 4.40, 4.58, 4.20, 4.68, 4.45, 4.60, 4.30, 4.50,
          4.62, 4.35, 4.55, 4.45, 4.62, 4.38, 4.50, 4.30, 4.48, 4.52,
          4.40, 4.55, 4.30, 4.48, 4.40, 4.52,
          1.40, 1.65, 2.05, 2.40, 2.65, 2.35, 3.25, 2.80, 3.60, 3.15,
          3.90, 3.40, 4.15, 3.25, 4.35, 3.95, 4.55, 3.50, 4.30, 4.60,
          3.75, 4.45, 4.15, 4.65, 3.40, 4.50, 4.00, 4.62, 3.85, 4.55,
          4.25, 3.60, 4.68, 4.10, 4.50, 3.85, 4.60, 4.20, 3.70, 4.55,
          4.05, 4.40, 3.80, 4.50, 4.15, 3.90, 4.45, 4.10, 4.35, 3.95]
all7_U = [1.07, 1.21, 1.21, 1.33, 1.55, 1.38, 1.63, 1.62, 1.78, 1.70,
          1.87, 1.99, 1.79, 2.02, 2.23, 2.03, 1.93, 2.31, 2.11, 2.29,
          2.24, 2.45, 2.20, 2.35, 2.57, 2.22, 2.50, 2.41, 2.60, 2.36,
          2.56, 2.64, 2.42, 2.60, 2.77, 2.56, 2.45, 2.79, 2.58, 2.76,
          2.70, 2.86, 2.65, 2.76, 2.94, 2.65, 2.86, 2.79, 2.94, 2.74,
          2.89, 2.94, 2.77, 2.91, 3.04, 2.88, 2.79, 3.04, 2.88, 2.99,
          2.95, 3.07, 2.90, 2.99, 3.12, 2.88, 3.05, 2.98, 3.10, 2.93,
          3.06, 3.10, 2.94, 3.06, 3.17, 3.02, 2.93, 3.16, 3.02, 3.12,
          3.08, 3.19, 3.03, 3.11, 3.23, 3.01, 3.17, 3.11, 3.20, 3.06,
          3.28, 3.22, 3.12, 3.17, 3.16,
          1.39, 1.46, 1.52, 1.84, 1.76, 1.98, 1.95, 2.18, 1.95, 2.11,
          2.35, 1.99, 2.30, 2.20, 2.39, 2.16, 2.37, 2.46, 2.23, 2.43,
          2.61, 2.40, 2.30, 2.64, 2.43, 2.62, 2.55, 2.75, 2.51, 2.64,
          2.82, 2.54, 2.76, 2.68, 2.83, 2.63, 2.79, 2.85, 2.66, 2.82,
          2.94, 2.79, 2.70, 2.95, 2.80, 2.92, 2.88, 3.01, 2.83, 2.92,
          3.06, 2.82, 3.01, 2.94, 3.06, 2.90, 3.04, 3.09, 2.93, 3.06,
          3.17, 3.03, 2.96, 3.18, 3.05, 3.16,
          1.09, 1.28, 1.39, 1.66, 1.61, 1.82, 1.96, 1.76, 2.02, 2.25,
          2.07, 1.98, 2.37, 2.17, 2.37, 2.34, 2.55, 2.31, 2.47, 2.70,
          2.38, 2.66, 2.58, 2.76, 2.55, 2.75, 2.84, 2.61, 2.81, 2.94,
          2.80, 2.72, 2.98, 2.83, 2.96, 2.92, 3.06, 2.88, 2.98, 3.13,
          2.89, 3.07, 3.00, 3.12, 2.96, 3.09, 3.14, 2.98, 3.11, 3.23]

labels = ["N=3", "N=5", "N=7"]
top_colors = ["lightcoral", "cornflowerblue", "mediumseagreen"]
bottom_colors = ["red", "blue", "green"]

col_titles = ["Binary cubic interactions\n$\\sigma_\\mathrm{B}$ vary with $\\sigma_\\mathrm{T}=0$",
              "Ternary cubic interactions\n$\\sigma_\\mathrm{T}$ vary with $\\sigma_\\mathrm{B}=0$",
              "All cubic interactions\nvary with $\\sigma_\\mathrm{B}=\\sigma_\\mathrm{T}$"]
x_labels = ["$\\sigma_\\chi^2+4\\phi_0^2\\sigma_\\mathrm{B}^2N^*$",
            "$\\sigma_\\chi^2+4\\phi_0^2\\sigma_\\mathrm{T}^2N^*$",
            "$\\sigma_\\chi^2+4\\phi_0^2\\sigma_\\mathrm{B}^2N^*$"]
x_limits = [(-19, 797), (-27, 557), (-18, 790)]
x_ticks = [[0, 200, 400, 600], [0, 200, 400], [0, 200, 400, 600]]
panel_tags = [["(a)", "(b)", "(c)"], ["(d)", "(e)", "(f)"]]

# flatten the ternary N=3 grid into point lists
tern3_x = [c for c, vals in zip(tern3_cols, tern3_M) for _ in vals]
tern3_Mf = [v for vals in tern3_M for v in vals]
tern3_Uf = [v for vals in tern3_U for v in vals]

series = [
    [(bin3_x, bin3_M, bin3_U), (bin5_x, bin5_M, bin5_U), (bin7_x, bin7_M, bin7_U)],
    [(tern3_x, tern3_Mf, tern3_Uf), (tern5_x, tern5_M, tern5_U), (tern7_x, tern7_M, tern7_U)],
    [(all3_x, all3_M, all3_U), (all5_x, all5_M, all5_U), (all7_x, all7_M, all7_U)],
]

fig = plt.figure(figsize=(12.55, 6.11), dpi=100)
lefts = [0.0685, 0.3793, 0.690]
width = 0.2964
rows = [(0.5205, 0.378), (0.1211, 0.3797)]

for c in range(3):
    for r in range(2):
        bottom, height = rows[r]
        ax = fig.add_axes([lefts[c], bottom, width, height])
        colors = top_colors if r == 0 else bottom_colors
        for k, (xs, ms, us) in enumerate(series[c]):
            ys = ms if r == 0 else us
            ax.scatter(xs, ys, s=14, facecolors="none", edgecolors=colors[k],
                       linewidths=0.8, label=labels[k])
        ax.set_xlim(*x_limits[c])
        ax.set_xticks(x_ticks[c])
        if r == 0:
            ax.set_ylim(1, 5)
            ax.set_yticks([1, 2, 3, 4, 5])
            ax.set_xticklabels([])
            ax.set_title(col_titles[c], fontsize=13.5, pad=9, linespacing=1.3)
        else:
            ax.set_ylim(1, 3.8)
            ax.set_yticks([1, 2, 3])
            ax.set_xlabel(x_labels[c], fontsize=14, labelpad=6)
        if c > 0:
            ax.set_yticklabels([])
        ax.tick_params(direction="in", length=6, width=1.2, labelsize=13)
        for sp in ax.spines.values():
            sp.set_linewidth(1.3)
        ax.text(0.965, 0.945, panel_tags[r][c], transform=ax.transAxes,
                ha="right", va="top", fontsize=16)
        if c == 0:
            if r == 0:
                ax.set_ylabel("phase count $M$", fontsize=14)
            else:
                ax.set_ylabel("number of unstable\nmodes $U+1$", fontsize=14)
            leg = ax.legend(loc="center right", fontsize=13, scatterpoints=1,
                            handletextpad=0.2, labelspacing=0.15, borderpad=0.4,
                            handlelength=1.2, framealpha=1, fancybox=True)
            leg.get_frame().set_edgecolor("0.8")
            leg.get_frame().set_linewidth(1.5)

fig.savefig("out.png", dpi=100)
